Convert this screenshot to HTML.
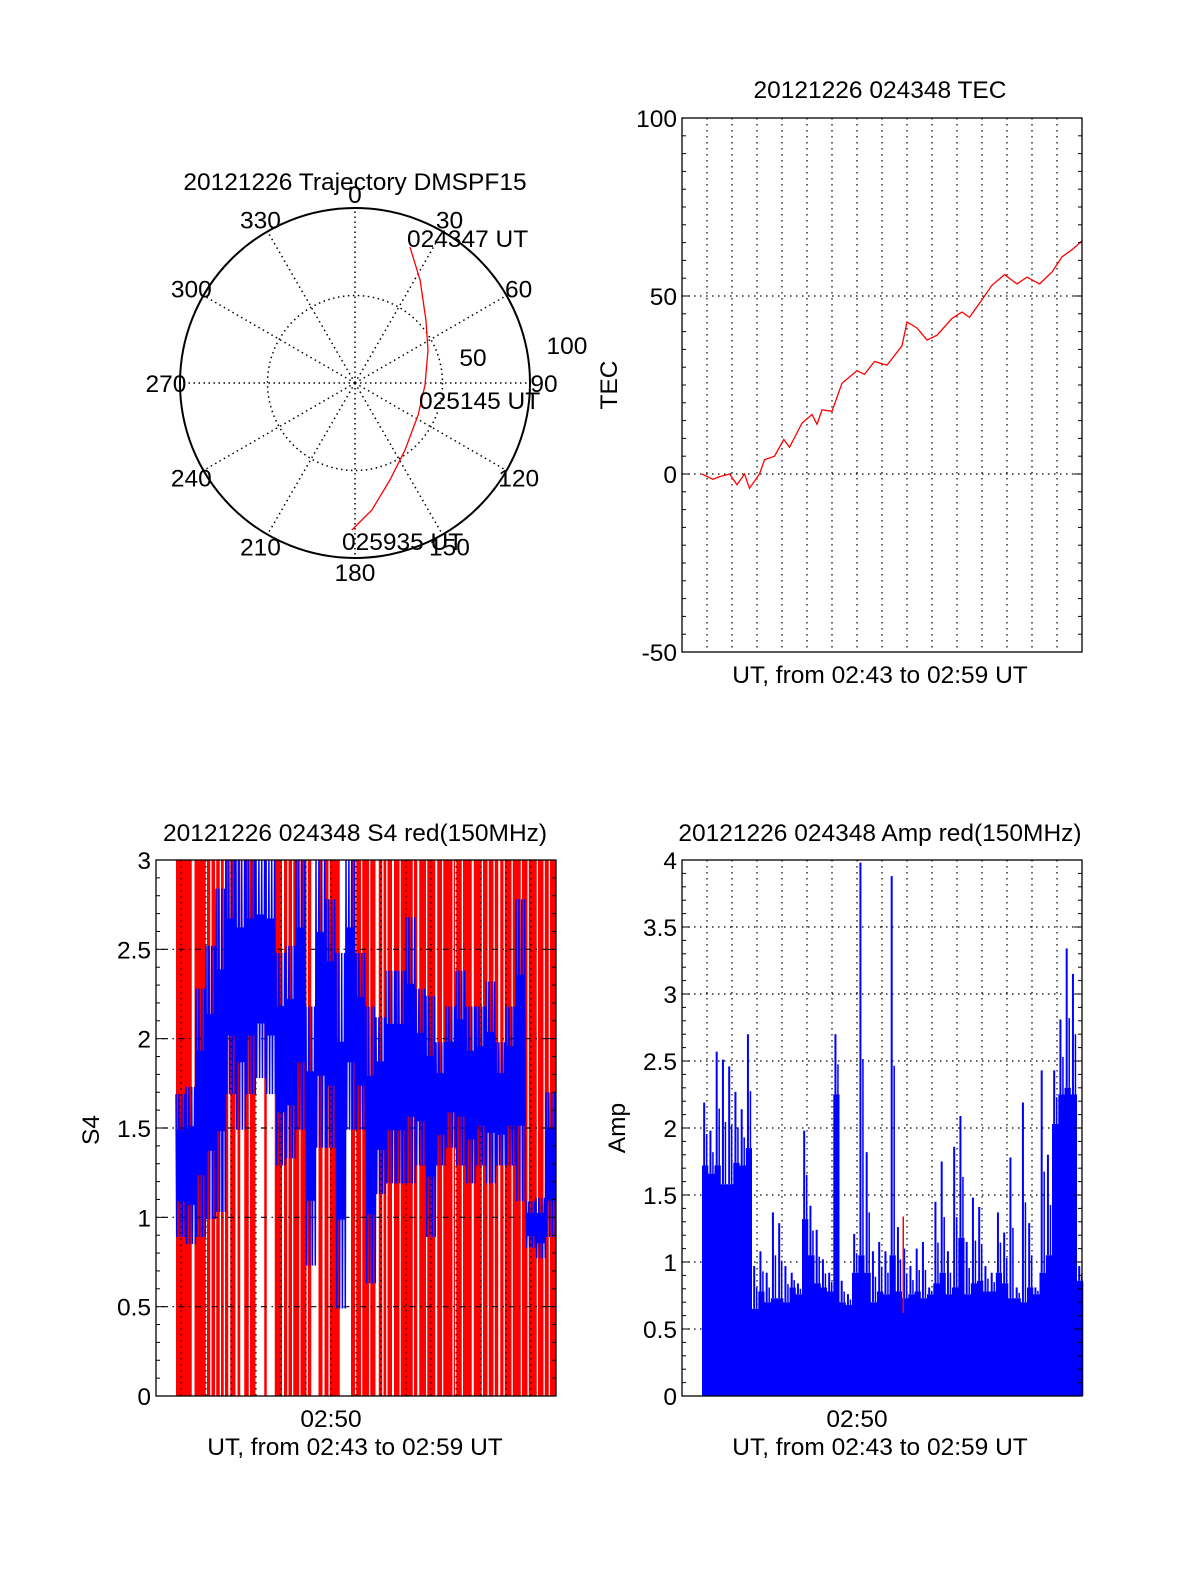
<!DOCTYPE html>
<html><head><meta charset="utf-8"><style>
html,body{margin:0;padding:0;background:#fff}
svg{display:block}
text{font-family:"Liberation Sans",Arial,sans-serif;font-size:24.5px;fill:#000}
</style></head><body>
<svg id="fig" width="1200" height="1575" viewBox="0 0 1200 1575" xmlns="http://www.w3.org/2000/svg">
<g id="polar"></g>
<g id="tec"></g>
<g id="s4"></g>
<g id="amp"></g>
</svg>
<script>
// ---- data ----
const trajAz = [22.0, 32.3, 48.4, 65.7, 91.6, 116.9, 143.3, 160.2, 172.4, 181.2];
const trajR  = [83.8, 69.6, 54.2, 45.8, 40.0, 40.4, 47.8, 58.9, 73.2, 84.0];
const azLabels = [0,30,60,90,120,150,180,210,240,270,300,330];

const tecMin = [0.8,1.23,1.5,1.9,2.2,2.5,2.7,3.1,3.3,3.7,4.07,4.3,4.8,5.2,5.4,5.6,6.0,6.4,7.0,7.3,7.7,8.2,8.8,9.0,9.4,9.8,10.2,10.8,11.2,11.5,12.0,12.4,12.9,13.4,13.8,14.3,14.8,15.2,15.6,16.0];
const tecVal = [0,-1.5,-0.8,0,-3,0,-4,0,4,5,9.7,7.5,14.3,16.7,14,18,17.6,25.5,29,28,31.6,30.6,36,42.7,41,37.6,39,43.7,45.5,44,49,53,56,53.4,55.3,53.4,56.7,61,63,65.5];
const tecTicks = [100,50,0,-50];

const s4Start = 0.8, s4Bin = 0.4;
const s4Hi = [1.69,1.73,2.28,2.52,2.84,3.0,3.0,3.0,3.0,3.0,2.48,2.52,3.0,2.18,3.0,2.78,2.48,3.0,2.48,2.18,2.12,2.38,2.38,2.68,2.28,2.24,1.98,2.18,2.38,2.18,2.18,2.32,1.98,2.18,2.78,1.09,1.11,1.70];
const s4Lo = [0.89,0.85,0.89,0.99,1.03,1.69,1.49,1.69,1.78,1.69,1.29,1.33,1.49,0.73,1.39,1.39,0.49,1.49,1.49,0.63,1.13,1.19,1.19,1.19,1.29,0.89,1.29,1.39,1.29,1.19,1.29,1.19,1.29,1.29,1.09,0.83,0.77,0.89];
const s4RedStart = 0.8, s4RedEnd = 16.0;
const s4GapMin = [1.43,1.99,2.17,2.36,2.55,2.71,2.89,3.18,3.37,3.71,3.98,4.43,4.69,5.04,5.25,5.44,5.73,6.02,6.21,6.45,6.66,6.90,7.35,7.96,8.20,8.52,8.78,9.05,9.21,9.44,9.74,10.27,10.45,10.80,11.17,11.44,11.86,11.96,12.23,12.63,13.03,13.26,13.50,13.69,13.90,14.22,14.59,14.86,15.23,15.50,15.71];
const s4GapW = [0.11,0.05,0.05,0.05,0.05,0.05,0.08,0.08,0.16,0.05,0.35,0.32,0.05,0.08,0.05,0.05,0.05,0.05,0.29,0.05,0.08,0.05,0.45,0.05,0.05,0.05,0.13,0.05,0.05,0.08,0.05,0.05,0.08,0.05,0.08,0.05,0.05,0.05,0.05,0.08,0.05,0.05,0.05,0.08,0.05,0.05,0.05,0.05,0.05,0.05,0.05];
const s4Ticks = [0,0.5,1,1.5,2,2.5,3];

const ampStart = 0.8, ampBin = 0.25;
const ampBase = [1.72,1.66,1.72,1.58,1.58,1.74,1.72,1.85,0.65,0.78,0.70,0.73,0.73,0.70,0.81,0.76,1.32,1.05,0.84,0.81,0.78,2.25,0.70,0.68,0.92,1.05,0.92,0.70,0.78,0.76,1.05,0.78,0.73,0.76,0.78,0.73,0.76,0.84,0.92,0.76,0.81,1.18,0.76,0.84,0.86,0.78,0.78,0.92,0.84,0.73,0.73,0.70,0.81,0.76,0.92,1.05,2.03,2.25,2.30,2.25,0.86];
const ampPeak = [2.19,1.98,2.57,2.51,2.46,2.27,2.14,2.70,0.97,1.08,0.92,1.37,1.29,0.97,0.92,0.84,1.98,1.42,1.24,1.02,0.92,2.70,0.86,0.76,1.21,3.98,1.82,1.08,1.15,1.08,3.88,1.26,1.10,0.97,1.10,1.15,0.81,1.45,1.75,1.08,1.86,2.09,1.15,1.48,1.41,0.97,0.92,1.37,1.22,1.78,0.81,2.19,1.29,0.81,2.43,1.80,2.43,2.81,3.34,3.15,0.97];
const ampRedMin = 8.85, ampRedLo = 0.62, ampRedHi = 1.34;
const ampTicks = [0,0.5,1,1.5,2,2.5,3,3.5,4];

// ---- helpers ----
const NS = "http://www.w3.org/2000/svg";
function mk(parent, tag, attrs, txt){
  const e = document.createElementNS(NS, tag);
  for (const k in attrs) e.setAttribute(k, attrs[k]);
  if (txt !== undefined) e.textContent = txt;
  parent.appendChild(e);
  return e;
}
function txt(parent, x, y, s, anchor, name){
  const t = mk(parent, "text", {x:x, y:y, "text-anchor":anchor||"middle"}, s);
  
  
  return t;
}

// ---- polar ----
(function(){
  const g = document.getElementById("polar");
  const cx=355, cy=383, R=175;
  const pr = r => r/100*R;
  txt(g, 355, 190, "20121226 Trajectory DMSPF15", "middle", "polar-title");
  const c = mk(g,"circle",{cx:cx,cy:cy,r:R,fill:"none",stroke:"#000","stroke-width":2});
  
  
  const c2 = mk(g,"circle",{cx:cx,cy:cy,r:pr(50),fill:"none",stroke:"#000","stroke-width":1.5,"stroke-dasharray":"1.5 3.5"});
  
  
  for (const a of azLabels){
    const rad = a*Math.PI/180;
    const sp = mk(g,"line",{x1:cx,y1:cy,x2:cx+R*Math.sin(rad),y2:cy-R*Math.cos(rad),stroke:"#000","stroke-width":1.5,"stroke-dasharray":"1.5 3.5"});
    
    
    const lr = R+14;
    txt(g, cx+lr*Math.sin(rad), cy-lr*Math.cos(rad)+9, String(a), "middle", "azimuth-label");
  }
  txt(g, 473, 366, "50", "middle", "radial-label-50");
  txt(g, 567, 354, "100", "middle", "radial-label-100");
  let d = "";
  trajAz.forEach((a,i)=>{
    const rad=a*Math.PI/180, r=pr(trajR[i]);
    d += (i?"L":"M")+(cx+r*Math.sin(rad)).toFixed(1)+","+(cy-r*Math.cos(rad)).toFixed(1);
  });
  const p = mk(g,"path",{d:d,fill:"none",stroke:"#f00","stroke-width":1.3});
  
  
  txt(g, 407, 247, "024347 UT", "start", "start-time-label");
  txt(g, 419, 409, "025145 UT", "start", "mid-time-label");
  txt(g, 342, 550, "025935 UT", "start", "end-time-label");
})();

// ---- generic axes frame ----
function frame(g, L, T, W, H, ymin, ymax, ticks, minorStep, fmt, dash){
  const sy = v => T + H - (v-ymin)/(ymax-ymin)*H;
  const sx = m => L + m/16*W;
  return {sx, sy, draw(){
    const gg = mk(g,"g",{});
    
    
    for (let m=1; m<16; m++){
      mk(gg,"line",{x1:sx(m),y1:T,x2:sx(m),y2:T+H,stroke:"#000","stroke-width":1.2,"stroke-dasharray":"1.5 4.5"});
    }
    for (const v of ticks){
      if (v===ymin||v===ymax) continue;
      mk(gg,"line",{x1:L,y1:sy(v),x2:L+W,y2:sy(v),stroke:"#000","stroke-width":1.2,"stroke-dasharray":dash});
    }
    return gg;
  }, axes(){
    const ag = mk(g,"g",{});
    
    
    mk(ag,"rect",{x:L,y:T,width:W,height:H,fill:"none",stroke:"#000","stroke-width":1.3});
    for (let v=ymin; v<=ymax+1e-9; v+=minorStep){
      const isMaj = ticks.some(t=>Math.abs(t-v)<1e-6);
      const len = isMaj?8:4;
      mk(ag,"line",{x1:L,y1:sy(v),x2:L+len,y2:sy(v),stroke:"#000","stroke-width":1});
      mk(ag,"line",{x1:L+W,y1:sy(v),x2:L+W-len,y2:sy(v),stroke:"#000","stroke-width":1});
    }
    for (const v of ticks){
      txt(ag, L-5, sy(v)+9, fmt(v), "end", "y-tick-label");
    }
  }};
}

// ---- TEC ----
(function(){
  const g = document.getElementById("tec");
  const f = frame(g, 682, 118, 400, 534, -50, 100, tecTicks, 5, v=>String(v), "1.5 4.5");
  f.draw();
  let d="";
  tecMin.forEach((m,i)=>{ d += (i?"L":"M")+f.sx(m).toFixed(1)+","+f.sy(tecVal[i]).toFixed(1); });
  const p = mk(g,"path",{d:d,fill:"none",stroke:"#f00","stroke-width":1.3});
  
  
  f.axes();
  txt(g, 880, 98, "20121226 024348 TEC", "middle", "tec-title");
  txt(g, 880, 683, "UT, from 02:43 to 02:59 UT", "middle", "x-axis-title");
  const yl = txt(g, 0, 0, "TEC", "middle", "y-axis-title");
  yl.setAttribute("transform","translate(617,385) rotate(-90)");
})();

// ---- S4 ----
(function(){
  const g = document.getElementById("s4");
  const f = frame(g, 156, 860, 400, 536, 0, 3, s4Ticks, 0.1, v=>String(v), "1.5 4.5 6 4.5");
  const red = mk(g,"rect",{x:f.sx(s4RedStart),y:f.sy(3),width:f.sx(s4RedEnd)-f.sx(s4RedStart),height:f.sy(0)-f.sy(3),fill:"#f00"});
  
  
  s4GapMin.forEach((m,i)=>{
    const r = mk(g,"rect",{x:f.sx(m),y:f.sy(3),width:Math.max(1,f.sx(m+s4GapW[i])-f.sx(m)),height:f.sy(0)-f.sy(3),fill:"#fff"});
    
    
  });
  f.draw();
  let d="";
  const steps = 14;
  s4Hi.forEach((h,i)=>{
    const m0 = s4Start + i*s4Bin;
    const mid = (h + s4Lo[i])/2;
    for (let k=0;k<steps;k++){
      const m = m0 + k*s4Bin/steps;
      let v;
      if (k%2===1) v = s4Lo[i] + (mid - s4Lo[i])*((k%4===1)?0:0.5);
      else v = h - (h - mid)*((k%4===0)?0:0.5);
      d += (d?"L":"M")+f.sx(m).toFixed(1)+","+f.sy(v).toFixed(1);
    }
  });
  const p = mk(g,"path",{d:d,fill:"none",stroke:"#00f","stroke-width":1.5});
  
  
  f.axes();
  txt(g, 355, 841, "20121226 024348 S4 red(150MHz)", "middle", "s4-title");
  txt(g, f.sx(7), 1427, "02:50", "middle", "x-tick-label");
  txt(g, 355, 1455, "UT, from 02:43 to 02:59 UT", "middle", "x-axis-title");
  const yl = txt(g, 0, 0, "S4", "middle", "y-axis-title");
  yl.setAttribute("transform","translate(99,1130) rotate(-90)");
})();

// ---- Amp ----
(function(){
  const g = document.getElementById("amp");
  const f = frame(g, 682, 860, 400, 536, 0, 4, ampTicks, 0.1, v=>String(v), "1.5 4.5");
  f.draw();
  let d = "M"+f.sx(ampStart).toFixed(1)+","+f.sy(0).toFixed(1);
  ampBase.forEach((b,i)=>{
    const m0 = ampStart+i*ampBin, m1 = m0+ampBin;
    d += "L"+f.sx(m0).toFixed(1)+","+f.sy(b).toFixed(1)+"L"+f.sx(m1).toFixed(1)+","+f.sy(b).toFixed(1);
  });
  d += "L"+f.sx(ampStart+ampBase.length*ampBin).toFixed(1)+","+f.sy(0).toFixed(1)+"Z";
  const area = mk(g,"path",{d:d,fill:"#00f",stroke:"none"});
  
  
  ampPeak.forEach((pk,i)=>{
    const m0 = ampStart+i*ampBin;
    const x1 = f.sx(m0+ampBin*0.35), x2 = f.sx(m0+ampBin*0.75);
    const l = mk(g,"line",{x1:x1,y1:f.sy(ampBase[i]),x2:x1,y2:f.sy(pk),stroke:"#00f","stroke-width":2});
    
    
    const l2 = mk(g,"line",{x1:x2,y1:f.sy(ampBase[i]),x2:x2,y2:f.sy((pk+ampBase[i])/2),stroke:"#00f","stroke-width":1.5});
    
    
  });
  const rl = mk(g,"line",{x1:f.sx(ampRedMin),y1:f.sy(ampRedLo),x2:f.sx(ampRedMin),y2:f.sy(ampRedHi),stroke:"#f00","stroke-width":1.5});
  
  
  f.axes();
  txt(g, 880, 841, "20121226 024348 Amp red(150MHz)", "middle", "amp-title");
  txt(g, f.sx(7), 1427, "02:50", "middle", "x-tick-label");
  txt(g, 880, 1455, "UT, from 02:43 to 02:59 UT", "middle", "x-axis-title");
  const yl = txt(g, 0, 0, "Amp", "middle", "y-axis-title");
  yl.setAttribute("transform","translate(625,1128) rotate(-90)");
})();
</script>
</body></html>
